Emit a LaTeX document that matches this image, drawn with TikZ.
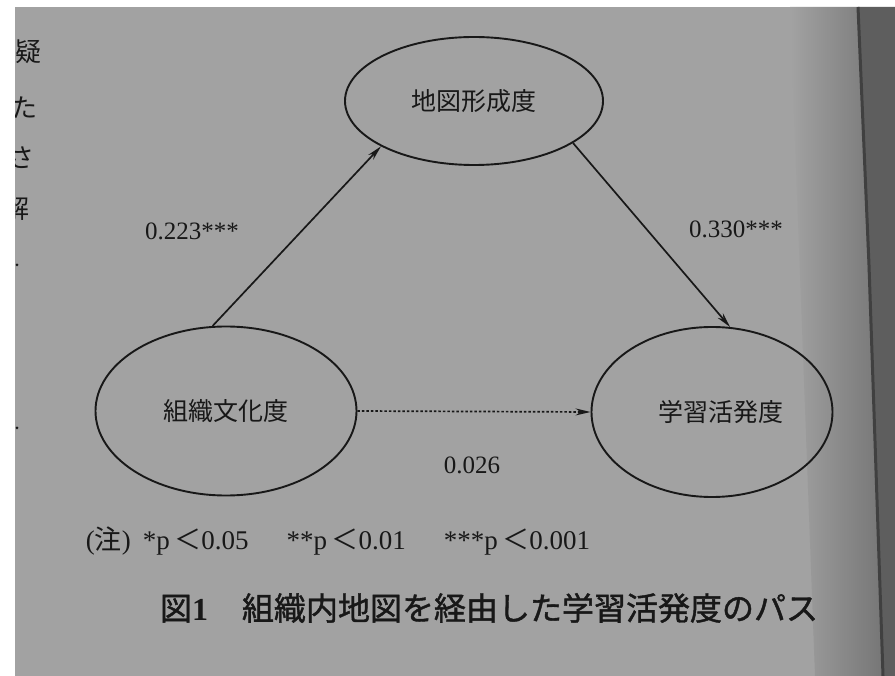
\documentclass[tikz,border=0pt]{standalone}
\usepackage{fontspec}
\setmainfont{Liberation Serif}
\newfontfamily\jp{Noto Sans CJK JP}
\newfontfamily\jpcap[FakeBold=1.3]{Noto Sans CJK JP}
\usetikzlibrary{shapes.geometric,arrows.meta}
\definecolor{paper}{RGB}{162,162,162}
\definecolor{shadow}{RGB}{118,118,118}
\definecolor{ink}{RGB}{24,24,24}
\begin{document}
\begin{tikzpicture}[x=1pt,y=-1pt,
  var/.style={ellipse, draw=ink, line width=1.9pt, inner sep=0pt, text=ink,
    font=\jp\fontsize{25}{25}\selectfont},
  pathline/.style={draw=ink, line width=1.7pt, -{Stealth[length=15pt,width=7pt]}},
  coef/.style={font=\fontsize{25}{25}\selectfont, text=ink, inner sep=0pt},
  margintxt/.style={font=\jp\fontsize{26}{26}\selectfont, text=ink, inner sep=0pt}]
\useasboundingbox (0,0) rectangle (895,676);
\fill[white] (0,0) rectangle (895,676);
\fill[paper] (15,7) rectangle (895,676);
\shade[left color=paper, right color=shadow] (790,7) -- (858,7) -- (883,676) -- (815,676) -- cycle;
\fill[shadow!80!black] (858,7) -- (895,7) -- (895,676) -- (883,676) -- cycle;
\draw[black!75, line width=3pt] (858,7) -- (869,265) -- (883,676);
% margin text of the page
\begin{scope}
\clip (15,7) rectangle (60,676);
\node[margintxt] (m1) at (29,52) {疑};
\node[margintxt] (m2) at (24,108) {た};
\node[margintxt] (m3) at (22,158) {さ};
\node[margintxt] (m4) at (17,209) {解};
\fill[ink] (17,265) circle (1.5);
\fill[ink] (17,428) circle (1.5);
\end{scope}
% variables
\node[var, minimum width=258pt, minimum height=128pt] (map) at (474,101) {地図形成度};
\node[var, minimum width=261pt, minimum height=169pt] (org) at (226,411) {組織文化度};
\node[var, minimum width=241pt, minimum height=170pt] (learn) at (712,412) {\hspace*{18pt}学習活発度};
% paths
\draw[pathline] (org.99) -- (map.206);
\draw[pathline] (map.337) -- (learn.78);
\draw[pathline, dash pattern=on 2.5pt off 2pt] (org.east) -- (learn.west);
% coefficients
\node[coef] (c1) at (192,231) {0.223***};
\node[coef] (c2) at (736,229) {0.330***};
\node[coef] (c3) at (472,465) {0.026};
% note and caption
\node[coef, font=\fontsize{27}{27}\selectfont] (note) at (338,541) {({\jp 注})\hspace{12pt}*p\,{\jp ＜}0.05\hspace{38pt}**p\,{\jp ＜}0.01\hspace{38pt}***p\,{\jp ＜}0.001};
\node[text=ink, inner sep=0pt, font=\jpcap\fontsize{32}{32}\selectfont] (cap) at (489,608) {図{\rmfamily\bfseries 1}\hspace{34pt}組織内地図を経由した学習活発度のパス};
\end{tikzpicture}
\end{document}
